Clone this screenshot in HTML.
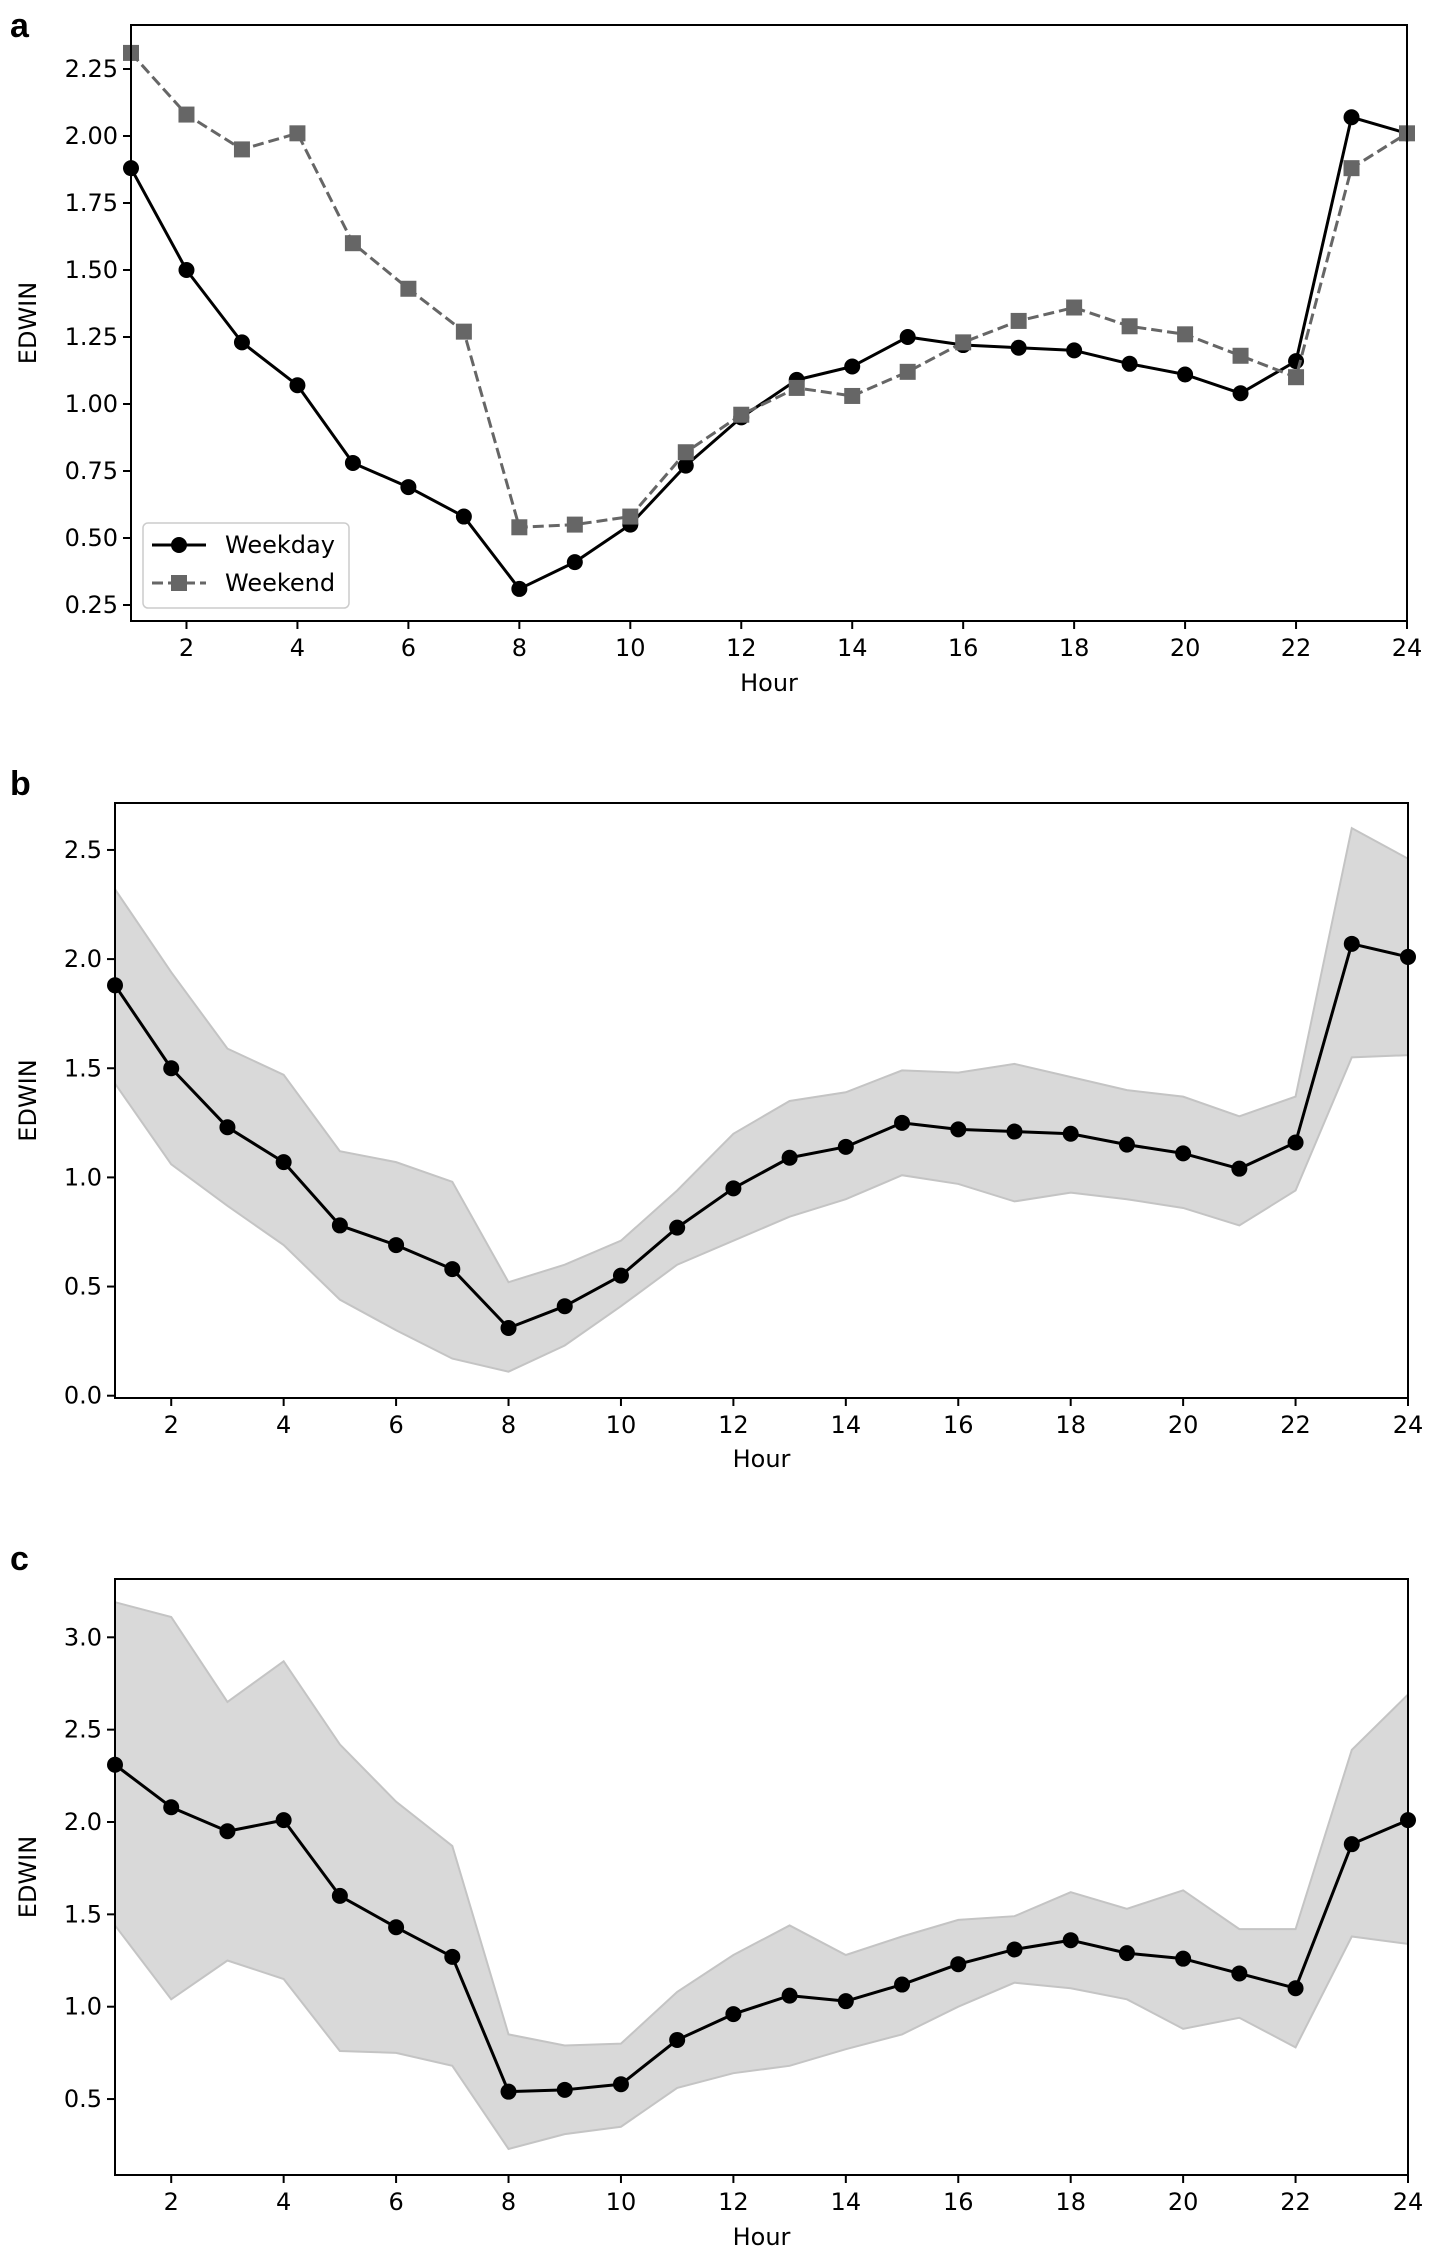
<!DOCTYPE html>
<html><head><meta charset="utf-8"><style>
html,body{margin:0;padding:0;background:#fff;}
svg{display:block;font-family:"DejaVu Sans","Liberation Sans",sans-serif;}
</style></head><body>
<svg id="fig" width="1429" height="2255" viewBox="0 0 1429 2255" xmlns="http://www.w3.org/2000/svg"></svg>
<script>
const hours = [1,2,3,4,5,6,7,8,9,10,11,12,13,14,15,16,17,18,19,20,21,22,23,24];
const weekday = [1.88,1.50,1.23,1.07,0.78,0.69,0.58,0.31,0.41,0.55,0.77,0.95,1.09,1.14,1.25,1.22,1.21,1.20,1.15,1.11,1.04,1.16,2.07,2.01];
const weekend = [2.31,2.08,1.95,2.01,1.60,1.43,1.27,0.54,0.55,0.58,0.82,0.96,1.06,1.03,1.12,1.23,1.31,1.36,1.29,1.26,1.18,1.10,1.88,2.01];
const weekdayUpper = [2.32,1.94,1.59,1.47,1.12,1.07,0.98,0.52,0.60,0.71,0.94,1.20,1.35,1.39,1.49,1.48,1.52,1.46,1.40,1.37,1.28,1.37,2.60,2.46];
const weekdayLower = [1.43,1.06,0.87,0.69,0.44,0.30,0.17,0.11,0.23,0.41,0.60,0.71,0.82,0.90,1.01,0.97,0.89,0.93,0.90,0.86,0.78,0.94,1.55,1.56];
const weekendUpper = [3.19,3.11,2.65,2.87,2.42,2.11,1.87,0.85,0.79,0.80,1.08,1.28,1.44,1.28,1.38,1.47,1.49,1.62,1.53,1.63,1.42,1.42,2.39,2.69];
const weekendLower = [1.44,1.04,1.25,1.15,0.76,0.75,0.68,0.23,0.31,0.35,0.56,0.64,0.68,0.77,0.85,1.00,1.13,1.10,1.04,0.88,0.94,0.78,1.38,1.34];
const xTicks = [2,4,6,8,10,12,14,16,18,20,22,24];
const yTicksA = [0.25,0.50,0.75,1.00,1.25,1.50,1.75,2.00,2.25];
const yTicksB = [0.0,0.5,1.0,1.5,2.0,2.5];
const yTicksC = [0.5,1.0,1.5,2.0,2.5,3.0];

const NS='http://www.w3.org/2000/svg';
const svg=document.getElementById('fig');
function mk(tag,attrs,parent){const e=document.createElementNS(NS,tag);for(const k in attrs)e.setAttribute(k,attrs[k]);(parent||svg).appendChild(e);return e;}

function panel(cfg){
  const g=mk('g',{});
  
  
  const L=cfg.left,R=cfg.right,T=cfg.top,B=cfg.bottom;
  const x=h=>L+(h-1)/(23)*(R-L);
  const y=v=>cfg.y0px-(v-cfg.y0)*cfg.ppu;
  // bands
  if(cfg.upper){
    let d='M'+hours.map((h,i)=>x(h)+','+y(cfg.upper[i])).join(' L');
    for(let i=hours.length-1;i>=0;i--)d+=' L'+x(hours[i])+','+y(cfg.lower[i]);
    d+=' Z';
    const band=mk('path',{d:d,fill:'#d9d9d9',stroke:'#c4c4c4','stroke-width':2},g);
    
    
  }
  // series
  cfg.series.forEach(s=>{
    const sg=mk('g',{},g);
    
    
    const pts=hours.map((h,i)=>x(h)+','+y(s.vals[i])).join(' ');
    mk('polyline',{points:pts,fill:'none',stroke:s.color,'stroke-width':3,'stroke-dasharray':s.dash||'none','stroke-linejoin':'round'},sg);
    hours.forEach((h,i)=>{
      let m;
      if(s.marker==='o') m=mk('circle',{cx:x(h),cy:y(s.vals[i]),r:8,fill:s.color},sg);
      else m=mk('rect',{x:x(h)-8,y:y(s.vals[i])-8,width:16,height:16,fill:s.color},sg);
      
      
    });
  });
  // cover overflow outside axes (markers at edges are clipped in matplotlib)
  // axes frame
  const fr=mk('rect',{x:L,y:T,width:R-L,height:B-T,fill:'none',stroke:'#000','stroke-width':2},g);
  
  
  // x ticks
  xTicks.forEach(t=>{
    mk('line',{x1:x(t),x2:x(t),y1:B,y2:B+8,stroke:'#000','stroke-width':2},g);
    const tx=mk('text',{x:x(t),y:B+35,'font-size':24,'text-anchor':'middle',fill:'#000'},g);
    tx.textContent=t;
    
    
  });
  cfg.yTicks.forEach(t=>{
    mk('line',{x1:L-8,x2:L,y1:y(t),y2:y(t),stroke:'#000','stroke-width':2},g);
    const tx=mk('text',{x:L-13,y:y(t)+8,'font-size':24,'text-anchor':'end',fill:'#000'},g);
    tx.textContent=t.toFixed(cfg.dec);
    
    
  });
  const xl=mk('text',{x:(L+R)/2,y:cfg.xlabelY,'font-size':24,'text-anchor':'middle',fill:'#000'},g);
  xl.textContent='Hour';
  
  
  const yc=(T+B)/2;
  const yl=mk('text',{x:cfg.ylabelX,y:yc,'font-size':24,'text-anchor':'middle',fill:'#000',transform:'rotate(-90 '+cfg.ylabelX+' '+yc+')'},g);
  yl.textContent='EDWIN';
  
  
  const pl=mk('text',{x:10,y:cfg.letterY,'font-size':34,'font-weight':'bold','font-family':'Liberation Sans, sans-serif',fill:'#000'},g);
  pl.textContent=cfg.letter;
  
  
  return g;
}

// clip markers outside the frame horizontally: use clipPath per panel
panel({letter:'a',left:131,right:1407,top:25,bottom:621,y0:2.00,y0px:136,ppu:268,yTicks:yTicksA,dec:2,
  xlabelY:691,ylabelX:36,letterY:37,
  series:[{name:'weekday',vals:weekday,color:'#000',marker:'o'},{name:'weekend',vals:weekend,color:'#666',marker:'s',dash:'11 5'}]});
panel({letter:'b',left:115,right:1408,top:803,bottom:1398,y0:0,y0px:1395.7,ppu:218.3,yTicks:yTicksB,dec:1,
  xlabelY:1467,ylabelX:36,letterY:795,upper:weekdayUpper,lower:weekdayLower,
  series:[{name:'weekday-mean',vals:weekday,color:'#000',marker:'o'}]});
panel({letter:'c',left:115,right:1408,top:1579,bottom:2175,y0:1.0,y0px:2006.7,ppu:184.7,yTicks:yTicksC,dec:1,
  xlabelY:2245,ylabelX:36,letterY:1570,upper:weekendUpper,lower:weekendLower,
  series:[{name:'weekend-mean',vals:weekend,color:'#000',marker:'o'}]});

// legend for panel a
const lg=mk('g',{});


mk('rect',{x:143,y:523,width:206,height:85,rx:5,fill:'#fff','fill-opacity':0.9,stroke:'#ccc','stroke-width':1.5},lg);
const e1=mk('g',{},lg);


mk('line',{x1:152,x2:206,y1:545,y2:545,stroke:'#000','stroke-width':3},e1);
mk('circle',{cx:179,cy:545,r:8,fill:'#000'},e1);
const t1=mk('text',{x:225,y:553,'font-size':24,fill:'#000'},e1);t1.textContent='Weekday';
const e2=mk('g',{},lg);


mk('line',{x1:152,x2:206,y1:583,y2:583,stroke:'#666','stroke-width':3,'stroke-dasharray':'11 5'},e2);
mk('rect',{x:171,y:575,width:16,height:16,fill:'#666'},e2);
const t2=mk('text',{x:225,y:591,'font-size':24,fill:'#000'},e2);t2.textContent='Weekend';
</script>
</body></html>
